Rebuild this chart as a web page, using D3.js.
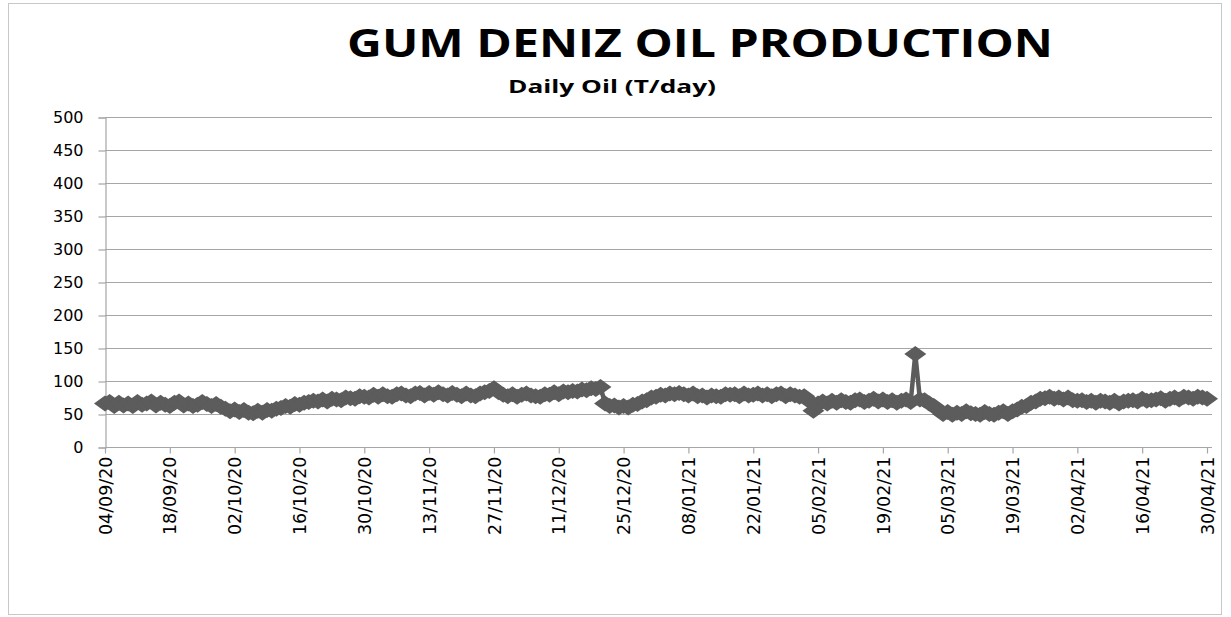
<!DOCTYPE html>
<html>
<head>
<meta charset="utf-8">
<script src="https://cdn.jsdelivr.net/npm/d3@7"></script>
<style>
  body { margin: 0; background: #fff; }
  svg { display: block; }
</style>
</head>
<body>
<script>
// chart text
const titleText = 'GUM DENIZ OIL PRODUCTION';
const subtitleText = 'Daily  Oil (T/day)';

// first and last day of the series (daily data)
const startDay = '04/09/20';
const endDay = '30/04/21';

// x tick labels, every 14 days
const tickLabels = ['04/09/20', '18/09/20', '02/10/20', '16/10/20', '30/10/20', '13/11/20',
    '27/11/20', '11/12/20', '25/12/20', '08/01/21', '22/01/21', '05/02/21', '19/02/21',
    '05/03/21', '19/03/21', '02/04/21', '16/04/21', '30/04/21'];

// y ticks
const yTicks = [0, 50, 100, 150, 200, 250, 300, 350, 400, 450, 500];

// daily oil, T/day (one value per day)
const dailyOil = [
    66, 68, 62, 67, 63, 66, 62, 68, 64, 66,
    69, 63, 67, 64, 62, 67, 69, 63, 66, 62,
    64, 68, 65, 62, 65, 61,
    58, 54, 57, 53, 56, 52, 51, 55, 52, 56, 55,
    58, 59, 62, 61, 65, 64, 67, 68, 70, 69,
    72, 69, 73, 72, 71, 75, 74, 73, 77, 76,
    75, 79, 76, 80, 77, 76, 80, 81, 78, 77,
    81, 82, 78, 82, 79, 83, 80, 78, 82, 79,
    77, 81, 78, 77, 81, 83, 85,
    89,
    83, 79, 77, 80, 76, 79, 81, 78, 77, 76,
    80, 79, 83, 80, 84, 83, 85, 84, 87, 86,
    89, 88, 91,
    66, 62, 63, 60, 62, 60, 64, 65, 69, 71,
    75, 76, 79, 78, 81, 80, 82, 80, 78, 81,
    77, 78, 75, 78, 77, 76, 80, 79, 80, 77,
    81, 78, 79, 81, 78, 80, 77, 80, 81, 77, 80, 78, 76, 77,
    70, 55, 66,
    69, 66, 70, 67, 71, 68, 67, 71, 72, 68, 70, 73, 69, 72, 68, 71, 67, 70, 72, 68,
    141,
    72, 71, 66, 62, 56,
    50, 53, 49, 52, 50, 54, 51, 50, 49, 53, 50, 49, 52, 54, 50, 54,
    57, 61, 62, 67, 69, 73, 74,
    76, 73, 75, 72, 75, 71, 70,
    71, 68, 70, 67, 70, 69, 67, 70, 66, 69,
    70, 71, 69, 73, 70, 71, 72, 74, 70, 73,
    75, 72, 76, 75, 73, 76, 75,
    73
];

const W = 1231, H = 617;
const parse = d3.timeParse('%d/%m/%y');
const fmt = d3.timeFormat('%d/%m/%y');

const days = d3.timeDay.range(parse(startDay), d3.timeDay.offset(parse(endDay), 1));
const data = days.map((d, i) => ({ date: d, value: dailyOil[i] }));

const svg = d3.select('body').append('svg')
    .attr('width', W)
    .attr('height', H);

// outer frame
svg.append('rect')
    .attr('x', 8.5).attr('y', 3.5)
    .attr('width', 1213).attr('height', 611)
    .attr('fill', '#fff')
    .attr('stroke', '#c8c8c8')
    .attr('stroke-width', 1);

const x = d3.scaleTime()
    .domain([parse(startDay), parse(endDay)])
    .range([105, 1207]);

const y = d3.scaleLinear()
    .domain([0, 500])
    .range([447, 117]);

const gridRight = 1212;

// gridlines
svg.append('g')
    .selectAll('line')
    .data(yTicks.filter(t => t > 0))
    .join('line')
    .attr('x1', 105).attr('x2', gridRight)
    .attr('y1', d => Math.round(y(d)) + 0.5)
    .attr('y2', d => Math.round(y(d)) + 0.5)
    .attr('stroke', '#a6a6a6')
    .attr('stroke-width', 1.2);

// y axis
const yAxis = svg.append('g')
    .attr('transform', 'translate(105.5,0.5)')
    .call(d3.axisLeft(y).tickValues(yTicks).tickSize(7).tickPadding(15));
yAxis.select('.domain').attr('stroke', '#a6a6a6').attr('stroke-width', 1.2);
yAxis.selectAll('.tick line').attr('stroke', '#a6a6a6').attr('stroke-width', 1.2);
yAxis.selectAll('text')
    .attr('fill', '#000')
    .style('font-family', '"DejaVu Sans", Verdana, sans-serif')
    .style('font-size', '16px');

// x axis
const xAxis = svg.append('g')
    .attr('transform', 'translate(0,' + (Math.round(y(0)) + 0.5) + ')')
    .call(d3.axisBottom(x)
        .tickValues(tickLabels.map(parse))
        .tickFormat(fmt)
        .tickSize(6)
        .tickSizeOuter(0));
xAxis.select('.domain')
    .attr('d', 'M105,0H' + gridRight)
    .attr('stroke', '#a6a6a6').attr('stroke-width', 1.2);
xAxis.selectAll('.tick line').attr('stroke', '#a6a6a6').attr('stroke-width', 1.2);
xAxis.selectAll('text')
    .attr('fill', '#000')
    .attr('transform', 'rotate(-90)')
    .attr('text-anchor', 'end')
    .attr('x', -9)
    .attr('y', 0)
    .attr('dy', '0.35em')
    .style('font-family', '"DejaVu Sans", Verdana, sans-serif')
    .style('font-size', '17.5px');

// series line
const line = d3.line()
    .x(d => x(d.date))
    .y(d => y(d.value));

const seriesColor = '#5c5c5c';

svg.append('path')
    .datum(data)
    .attr('d', line)
    .attr('fill', 'none')
    .attr('stroke', seriesColor)
    .attr('stroke-width', 4.5)
    .attr('stroke-linejoin', 'round');

// diamond markers
const dw = 11, dh = 8;
svg.append('g')
    .selectAll('path')
    .data(data)
    .join('path')
    .attr('transform', d => 'translate(' + x(d.date) + ',' + y(d.value) + ')')
    .attr('d', 'M0,' + (-dh) + 'L' + dw + ',0L0,' + dh + 'L' + (-dw) + ',0Z')
    .attr('fill', seriesColor);

// title
svg.append('text')
    .attr('x', 700).attr('y', 57)
    .attr('text-anchor', 'middle')
    .attr('textLength', 706)
    .attr('lengthAdjust', 'spacingAndGlyphs')
    .style('font-family', '"Open Sans", "Noto Sans", sans-serif')
    .style('font-weight', 'bold')
    .style('font-size', '40px')
    .text(titleText);

svg.append('text')
    .attr('x', 612).attr('y', 93)
    .attr('text-anchor', 'middle')
    .attr('textLength', 208)
    .attr('lengthAdjust', 'spacingAndGlyphs')
    .style('font-family', '"Open Sans", "Noto Sans", sans-serif')
    .style('font-weight', 'bold')
    .style('font-size', '18px')
    .text(subtitleText);
</script>
</body>
</html>
